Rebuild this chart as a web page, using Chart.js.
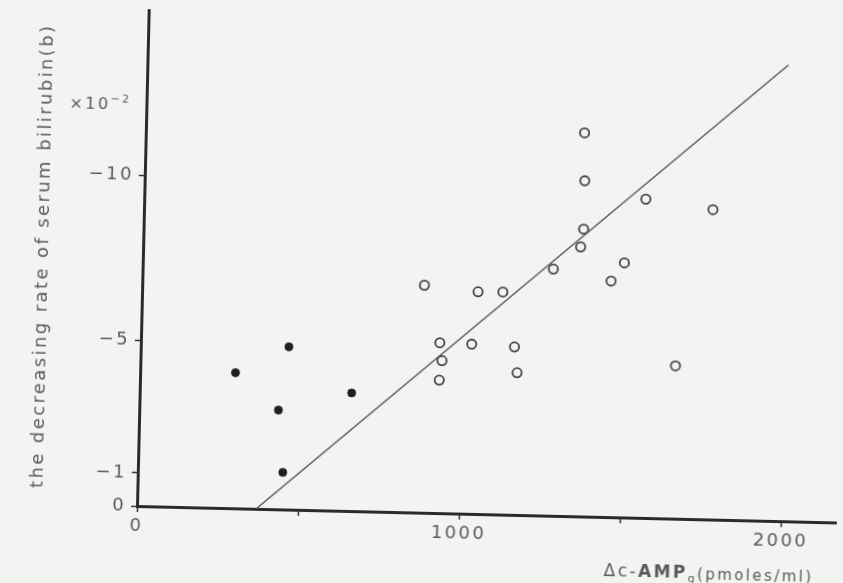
<!DOCTYPE html>
<html>
<head>
<meta charset="utf-8">
<script src="https://cdn.jsdelivr.net/npm/chart.js@4.4.0/dist/chart.umd.min.js"></script>
<style>
  html, body { margin: 0; padding: 0; background: #f3f3f1; overflow: hidden; }
  #wrap { width: 843px; height: 583px; background: #f3f3f1;
          transform: rotate(1.35deg); transform-origin: 137px 506px; }
  canvas { display: block; }
</style>
</head>
<body>
<div id="wrap"><canvas id="c" width="843" height="583"></canvas></div>
<script>
// ---- data ----
const openX   = [1362, 1366, 1557, 1766, 1366, 1358, 1495, 1275, 1455, 876, 1043, 1120, 928, 1027, 1160, 936, 1661, 1170, 929];
const openY   = [-11.6, -10.15, -9.64, -9.37, -8.69, -8.15, -7.70, -7.46, -7.14, -6.88, -6.72, -6.73, -5.15, -5.13, -5.08, -4.61, -4.62, -4.30, -4.02];
const filledX = [460, 296, 658, 432, 450];
const filledY = [-4.92, -4.10, -3.57, -3.00, -1.12];
const lineX   = [370, 1990];
const lineY   = [0, -13.8];
const xTickValues = [0, 500, 1000, 1500, 2000];
const xTickLabels = ['0', '', '1000', '', '2000'];
const yTickValues = [0, -1, -5, -10];
const yTickLabels = ['0', '\u22121', '\u22125', '\u221210'];
const yTitle = 'the decreasing rate of serum bilirubin(b)';
const xTitleParts = ['\u0394c-', 'AMP', 'g', '(pmoles/ml)'];
const yMultiplier = ['\u00d710', '\u22122'];
const yMultiplierAt = -12.1;

const FONT = '"DejaVu Sans", sans-serif';
const TXT = '#5a5a5a';
const LS = '2.4px';

const toPts = (xs, ys) => xs.map((x, i) => ({ x: x, y: ys[i] }));

const spacingPlugin = {
  id: 'spacing',
  beforeDraw(chart) { chart.ctx.letterSpacing = LS; }
};

const textPlugin = {
  id: 'extraText',
  afterDraw(chart) {
    const ctx = chart.ctx;
    const ys = chart.scales.y;
    const xs = chart.scales.x;
    ctx.save();
    ctx.letterSpacing = LS;
    ctx.fillStyle = TXT;
    ctx.textBaseline = 'middle';
    ctx.textAlign = 'left';
    // y multiplier  x10^-2
    const my = ys.getPixelForValue(yMultiplierAt);
    ctx.font = '16px ' + FONT;
    const w1 = ctx.measureText(yMultiplier[0]).width;
    ctx.font = '11px ' + FONT;
    const w2 = ctx.measureText(yMultiplier[1]).width;
    const right = chart.chartArea.left - 15;
    ctx.font = '16px ' + FONT;
    ctx.fillText(yMultiplier[0], right - w1 - w2, my);
    ctx.font = '11px ' + FONT;
    ctx.fillText(yMultiplier[1], right - w2, my - 6);
    // x title
    const fonts = ['17px ' + FONT, 'bold 17px ' + FONT, '11px ' + FONT, '15px ' + FONT];
    const offs = [0, 0, 5, 1];
    const widths = xTitleParts.map((t, i) => { ctx.font = fonts[i]; return ctx.measureText(t).width; });
    const total = widths.reduce((a, b) => a + b, 0);
    let x = 815 - total;
    const ty = xs.bottom - 22;
    xTitleParts.forEach((t, i) => {
      ctx.font = fonts[i];
      ctx.fillText(t, x, ty + offs[i]);
      x += widths[i];
    });
    ctx.restore();
  }
};

new Chart(document.getElementById('c'), {
  type: 'scatter',
  data: {
    datasets: [
      {
        label: 'open',
        data: toPts(openX, openY),
        pointStyle: 'circle',
        pointRadius: 4.6,
        backgroundColor: 'rgba(0,0,0,0)',
        borderColor: '#454545',
        borderWidth: 1.8
      },
      {
        label: 'filled',
        data: toPts(filledX, filledY),
        pointStyle: 'circle',
        pointRadius: 4,
        backgroundColor: '#1f1f1f',
        borderColor: '#1f1f1f',
        borderWidth: 1
      },
      {
        type: 'line',
        label: 'regression',
        data: toPts(lineX, lineY),
        showLine: true,
        pointRadius: 0,
        borderColor: '#555555',
        borderWidth: 1.4,
        fill: false
      }
    ]
  },
  options: {
    responsive: false,
    animation: false,
    devicePixelRatio: 1,
    layout: { padding: { top: 10, right: 0, bottom: 0, left: 0 } },
    plugins: { legend: { display: false }, tooltip: { enabled: false }, title: { display: false } },
    scales: {
      x: {
        type: 'linear',
        position: 'bottom',
        min: 0,
        max: 2172,
        afterFit(s) { s.height = 77; s.paddingLeft = 0; s.paddingRight = 0; },
        afterBuildTicks(s) { s.ticks = xTickValues.map(v => ({ value: v })); },
        border: { display: true, color: '#2b2b2b', width: 3 },
        grid: { display: true, drawOnChartArea: false, drawTicks: true, tickLength: 6, tickColor: '#333', tickWidth: 1.5 },
        ticks: {
          padding: 4,
          maxRotation: 0,
          autoSkip: false,
          color: TXT,
          font: { family: FONT, size: 18 },
          callback(v) { const i = xTickValues.indexOf(v); return i >= 0 ? xTickLabels[i] : ''; }
        }
      },
      y: {
        type: 'linear',
        position: 'left',
        min: -15,
        max: 0,
        reverse: true,
        afterFit(s) { s.width = 137; s.paddingTop = 0; s.paddingBottom = 0; },
        afterBuildTicks(s) { s.ticks = yTickValues.map(v => ({ value: v })); },
        border: { display: true, color: '#2b2b2b', width: 3 },
        grid: { display: true, drawOnChartArea: false, drawTicks: true, tickLength: 6, tickColor: '#333', tickWidth: 1.5 },
        ticks: {
          padding: 5,
          autoSkip: false,
          color: TXT,
          font: { family: FONT, size: 18 },
          callback(v) { const i = yTickValues.indexOf(v); return i >= 0 ? yTickLabels[i] : ''; }
        },
        title: {
          display: true,
          text: yTitle,
          color: TXT,
          font: { family: FONT, size: 18 },
          padding: { top: 27, bottom: 0 }
        }
      }
    }
  },
  plugins: [spacingPlugin, textPlugin]
});
</script>
</body>
</html>
